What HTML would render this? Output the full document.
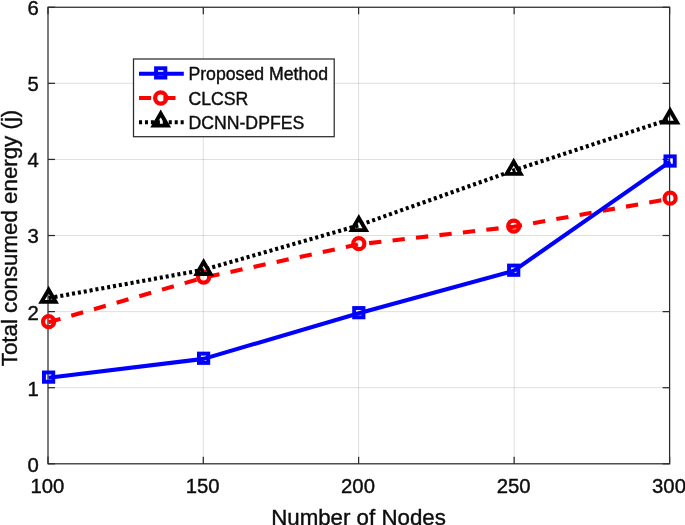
<!DOCTYPE html><html><head><meta charset="utf-8"><title>Chart</title><style>html,body{margin:0;padding:0;background:#fff;}svg{display:block;font-family:"Liberation Sans",sans-serif;}text{stroke:#0d0d0d;stroke-width:0.4px;}</style></head><body>
<svg width="685" height="525" viewBox="0 0 685 525">
<rect width="685" height="525" fill="#fff"/>
<line x1="203.30" y1="7.25" x2="203.30" y2="463.8" stroke="#262626" stroke-opacity="0.15" stroke-width="1"/>
<line x1="358.60" y1="7.25" x2="358.60" y2="463.8" stroke="#262626" stroke-opacity="0.15" stroke-width="1"/>
<line x1="514.15" y1="7.25" x2="514.15" y2="463.8" stroke="#262626" stroke-opacity="0.15" stroke-width="1"/>
<line x1="48.0" y1="387.71" x2="669.6" y2="387.71" stroke="#262626" stroke-opacity="0.15" stroke-width="1"/>
<line x1="48.0" y1="311.62" x2="669.6" y2="311.62" stroke="#262626" stroke-opacity="0.15" stroke-width="1"/>
<line x1="48.0" y1="235.53" x2="669.6" y2="235.53" stroke="#262626" stroke-opacity="0.15" stroke-width="1"/>
<line x1="48.0" y1="159.43" x2="669.6" y2="159.43" stroke="#262626" stroke-opacity="0.15" stroke-width="1"/>
<line x1="48.0" y1="83.34" x2="669.6" y2="83.34" stroke="#262626" stroke-opacity="0.15" stroke-width="1"/>
<rect x="48.0" y="7.25" width="621.60" height="456.55" fill="none" stroke="#2b2b2b" stroke-width="1.25"/>
<line x1="48.00" y1="463.8" x2="48.00" y2="456.8" stroke="#2b2b2b" stroke-width="1.25"/>
<line x1="48.00" y1="7.25" x2="48.00" y2="14.25" stroke="#2b2b2b" stroke-width="1.25"/>
<line x1="203.30" y1="463.8" x2="203.30" y2="456.8" stroke="#2b2b2b" stroke-width="1.25"/>
<line x1="203.30" y1="7.25" x2="203.30" y2="14.25" stroke="#2b2b2b" stroke-width="1.25"/>
<line x1="358.60" y1="463.8" x2="358.60" y2="456.8" stroke="#2b2b2b" stroke-width="1.25"/>
<line x1="358.60" y1="7.25" x2="358.60" y2="14.25" stroke="#2b2b2b" stroke-width="1.25"/>
<line x1="514.15" y1="463.8" x2="514.15" y2="456.8" stroke="#2b2b2b" stroke-width="1.25"/>
<line x1="514.15" y1="7.25" x2="514.15" y2="14.25" stroke="#2b2b2b" stroke-width="1.25"/>
<line x1="669.60" y1="463.8" x2="669.60" y2="456.8" stroke="#2b2b2b" stroke-width="1.25"/>
<line x1="669.60" y1="7.25" x2="669.60" y2="14.25" stroke="#2b2b2b" stroke-width="1.25"/>
<line x1="48.0" y1="463.80" x2="55.0" y2="463.80" stroke="#2b2b2b" stroke-width="1.25"/>
<line x1="669.6" y1="463.80" x2="662.6" y2="463.80" stroke="#2b2b2b" stroke-width="1.25"/>
<line x1="48.0" y1="387.71" x2="55.0" y2="387.71" stroke="#2b2b2b" stroke-width="1.25"/>
<line x1="669.6" y1="387.71" x2="662.6" y2="387.71" stroke="#2b2b2b" stroke-width="1.25"/>
<line x1="48.0" y1="311.62" x2="55.0" y2="311.62" stroke="#2b2b2b" stroke-width="1.25"/>
<line x1="669.6" y1="311.62" x2="662.6" y2="311.62" stroke="#2b2b2b" stroke-width="1.25"/>
<line x1="48.0" y1="235.53" x2="55.0" y2="235.53" stroke="#2b2b2b" stroke-width="1.25"/>
<line x1="669.6" y1="235.53" x2="662.6" y2="235.53" stroke="#2b2b2b" stroke-width="1.25"/>
<line x1="48.0" y1="159.43" x2="55.0" y2="159.43" stroke="#2b2b2b" stroke-width="1.25"/>
<line x1="669.6" y1="159.43" x2="662.6" y2="159.43" stroke="#2b2b2b" stroke-width="1.25"/>
<line x1="48.0" y1="83.34" x2="55.0" y2="83.34" stroke="#2b2b2b" stroke-width="1.25"/>
<line x1="669.6" y1="83.34" x2="662.6" y2="83.34" stroke="#2b2b2b" stroke-width="1.25"/>
<line x1="48.0" y1="7.25" x2="55.0" y2="7.25" stroke="#2b2b2b" stroke-width="1.25"/>
<line x1="669.6" y1="7.25" x2="662.6" y2="7.25" stroke="#2b2b2b" stroke-width="1.25"/>
<text x="47.40" y="493.3" font-size="20.3" text-anchor="middle" fill="#0d0d0d">100</text>
<text x="202.70" y="493.3" font-size="20.3" text-anchor="middle" fill="#0d0d0d">150</text>
<text x="358.00" y="493.3" font-size="20.3" text-anchor="middle" fill="#0d0d0d">200</text>
<text x="513.55" y="493.3" font-size="20.3" text-anchor="middle" fill="#0d0d0d">250</text>
<text x="669.00" y="493.3" font-size="20.3" text-anchor="middle" fill="#0d0d0d">300</text>
<text x="38.8" y="471.70" font-size="20.3" text-anchor="end" fill="#0d0d0d">0</text>
<text x="38.8" y="395.61" font-size="20.3" text-anchor="end" fill="#0d0d0d">1</text>
<text x="38.8" y="319.52" font-size="20.3" text-anchor="end" fill="#0d0d0d">2</text>
<text x="38.8" y="243.43" font-size="20.3" text-anchor="end" fill="#0d0d0d">3</text>
<text x="38.8" y="167.33" font-size="20.3" text-anchor="end" fill="#0d0d0d">4</text>
<text x="38.8" y="91.24" font-size="20.3" text-anchor="end" fill="#0d0d0d">5</text>
<text x="38.8" y="15.15" font-size="20.3" text-anchor="end" fill="#0d0d0d">6</text>
<text x="358.5" y="525" font-size="22.3" text-anchor="middle" fill="#0d0d0d">Number of Nodes</text>
<text transform="translate(16.5,238) rotate(-90)" font-size="22.3" text-anchor="middle" fill="#0d0d0d">Total consumed energy (j)</text>
<polyline points="48.60,322.26 203.60,277.67 358.80,244.27 513.70,226.69 670.10,198.76" fill="none" stroke="#f00" stroke-width="4.1" stroke-dasharray="12.3 11.3"/>
<circle cx="48.60" cy="321.66" r="5.55" fill="none" stroke="#f00" stroke-width="4.2"/>
<circle cx="203.60" cy="277.07" r="5.55" fill="none" stroke="#f00" stroke-width="4.2"/>
<circle cx="358.80" cy="243.67" r="5.55" fill="none" stroke="#f00" stroke-width="4.2"/>
<circle cx="513.70" cy="226.09" r="5.55" fill="none" stroke="#f00" stroke-width="4.2"/>
<circle cx="670.10" cy="198.16" r="5.55" fill="none" stroke="#f00" stroke-width="4.2"/>
<polyline points="48.60,298.14 203.60,269.79 358.80,225.39 513.70,170.38 670.10,119.07" fill="none" stroke="#000" stroke-width="4.1" stroke-dasharray="3.05 2.9"/>
<polygon points="48.60,289.74 41.59,301.89 55.61,301.89" fill="none" stroke="#000" stroke-width="3.9" stroke-linejoin="miter" stroke-miterlimit="10"/>
<polygon points="203.60,261.89 196.59,274.04 210.61,274.04" fill="none" stroke="#000" stroke-width="3.9" stroke-linejoin="miter" stroke-miterlimit="10"/>
<polygon points="358.80,217.99 351.79,230.14 365.81,230.14" fill="none" stroke="#000" stroke-width="3.9" stroke-linejoin="miter" stroke-miterlimit="10"/>
<polygon points="513.70,161.68 506.69,173.83 520.71,173.83" fill="none" stroke="#000" stroke-width="3.9" stroke-linejoin="miter" stroke-miterlimit="10"/>
<polygon points="670.10,110.47 663.09,122.62 677.11,122.62" fill="none" stroke="#000" stroke-width="3.9" stroke-linejoin="miter" stroke-miterlimit="10"/>
<polyline points="48.60,377.73 203.60,358.86 358.80,313.28 513.70,270.82 670.10,161.63" fill="none" stroke="#00f" stroke-width="4.1" stroke-linejoin="round"/>
<rect x="43.95" y="372.48" width="9.3" height="9.3" fill="none" stroke="#00f" stroke-width="3.9"/>
<rect x="198.95" y="353.61" width="9.3" height="9.3" fill="none" stroke="#00f" stroke-width="3.9"/>
<rect x="354.15" y="308.03" width="9.3" height="9.3" fill="none" stroke="#00f" stroke-width="3.9"/>
<rect x="509.05" y="265.57" width="9.3" height="9.3" fill="none" stroke="#00f" stroke-width="3.9"/>
<rect x="665.45" y="156.38" width="9.3" height="9.3" fill="none" stroke="#00f" stroke-width="3.9"/>
<rect x="133.5" y="59.0" width="200.70" height="77.70" fill="#fff" stroke="#2b2b2b" stroke-width="1.25"/>
<line x1="139.0" y1="73.8" x2="183.8" y2="73.8" stroke="#00f" stroke-width="4.1"/>
<rect x="156.05" y="68.25" width="9.3" height="9.3" fill="none" stroke="#00f" stroke-width="3.9"/>
<line x1="139.0" y1="98.0" x2="183.8" y2="98.0" stroke="#f00" stroke-width="4.1" stroke-dasharray="12.1 12.3"/>
<circle cx="160.70" cy="98.00" r="5.55" fill="none" stroke="#f00" stroke-width="4.2"/>
<line x1="139.0" y1="122.2" x2="183.8" y2="122.2" stroke="#000" stroke-width="4.1" stroke-dasharray="3.05 2.9"/>
<polygon points="160.70,113.50 153.69,125.65 167.71,125.65" fill="none" stroke="#000" stroke-width="3.9" stroke-linejoin="miter" stroke-miterlimit="10"/>
<text x="188.4" y="80.4" font-size="17.7" fill="#0d0d0d">Proposed Method</text>
<text x="188.4" y="105.0" font-size="17.7" fill="#0d0d0d">CLCSR</text>
<text x="188.4" y="129.2" font-size="17.7" fill="#0d0d0d">DCNN-DPFES</text>
</svg></body></html>
